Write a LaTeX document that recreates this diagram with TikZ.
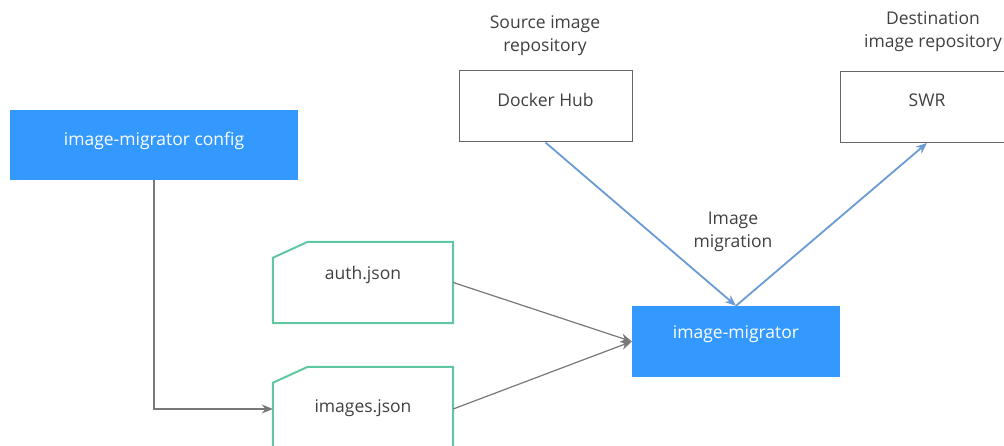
\documentclass[tikz,border=0pt]{standalone}
\usepackage{fontspec}
\setmainfont{Open Sans}
\usetikzlibrary{arrows.meta}
\definecolor{boxblue}{RGB}{51,153,255}
\definecolor{docgreen}{RGB}{96,200,160}
\definecolor{flowblue}{RGB}{106,155,215}
\definecolor{txtgray}{RGB}{64,64,64}
\definecolor{linegray}{RGB}{120,120,120}
\begin{document}
\begin{tikzpicture}[x=1pt,y=-1pt,
		font=\fontsize{17.5}{23}\selectfont,
		bluebox/.style={fill=boxblue,text=white,minimum width=288pt,minimum height=70pt,text height=14pt,text depth=#1},
		repobox/.style={draw=black!60,line width=1pt,text=txtgray,minimum width=#1,minimum height=71pt,text height=14pt,text depth=14pt},
		docbox/.style={text=txtgray,minimum width=180pt,text height=14pt,text depth=#1},
		docline/.style={draw=docgreen,line width=2pt},
		repolabel/.style={text=txtgray,align=center},
		migrate/.style={draw=flowblue,line width=1.8pt,-{Stealth[length=11pt,width=9pt]}},
		feed/.style={draw=linegray,line width=1.2pt,-{Stealth[length=11pt,width=9pt]}}]
	\clip (0,0) rectangle (1004,446);
	% Konfiguration
	\node[bluebox=13pt] (config) at (154,145) {image-migrator config};
	% Dateien
	\node[docbox=20pt,minimum height=81pt] (auth) at (363,282.5) {auth.json};
	\node[docbox=19pt,minimum height=96pt] (images) at (363,415) {images.json};
	\foreach \f in {auth,images}
		\draw[docline] ([yshift=-16pt]\f.north west) -- ([xshift=35pt]\f.north west) -- (\f.north east)
			-- (\f.south east) -- (\f.south west) -- cycle;
	% Repositories
	\node[repobox=173pt] (docker) at (545.5,106.5) {Docker Hub};
	\node[repobox=174pt] (swr) at (927,107) {SWR};
	\node[repolabel] (srclabel) at (545,36) {Source image\\repository};
	\node[repolabel] (dstlabel) at (933,32) {Destination\\image repository};
	% Migrator
	\node[bluebox=20pt,minimum width=208pt,minimum height=71pt] (migrator) at (736,341.5) {image-migrator};
	\node[repolabel] (migrlabel) at (733,232) {Image\\migration};
	% Pfeile
	\draw[migrate] (docker.south) -- (migrator.north);
	\draw[migrate] (migrator.north) -- (swr.south);
	\draw[feed] (auth.east) -- (migrator.west);
	\draw[feed] ([yshift=6pt]images.east) -- (migrator.west);
	\draw[feed] (config.south) |- ([yshift=6pt]images.west);
\end{tikzpicture}
\end{document}
